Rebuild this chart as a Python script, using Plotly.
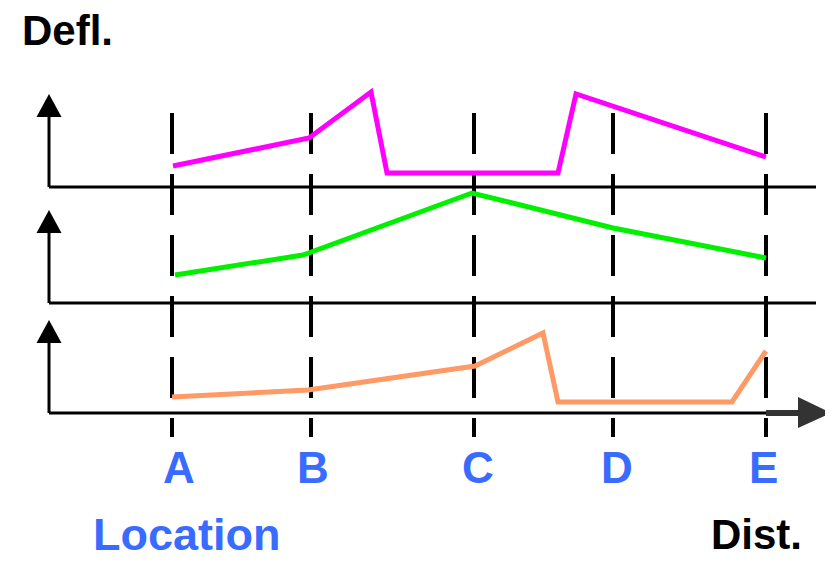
import plotly.graph_objects as go

# locations along the beam (distance, px-scaled) and their labels
loc_names = ["A", "B", "C", "D", "E"]
loc_x = [172, 311, 474, 613, 766]
label_x = [179, 313, 478, 617, 763]

# baseline level of each of the three deflection panels
panel_base = [187, 303, 413]

# deflection shapes (distance, deflection above the baseline)
magenta_x = [173, 309, 371, 387, 558, 576, 766]
magenta_defl = [21, 49, 95, 14, 14, 93, 30]

green_x = [175, 303, 472, 613, 766]
green_defl = [28, 48, 110, 75, 45]

orange_x = [172, 308, 475, 543, 558, 732, 766]
orange_defl = [16, 23, 47, 80, 11, 11, 62]

series = [
    (magenta_x, magenta_defl, "#ff00ff", 0),
    (green_x, green_defl, "#00f000", 1),
    (orange_x, orange_defl, "#ff9966", 2),
]

W, H = 833, 563
PAD = 8  # page body margin
axis_x = 49
axis_len = 93
blue = "#3a6bff"

fig = go.Figure()
shapes = []

# dashed location lines
for x in loc_x:
    shapes.append(dict(type="line", xref="x", yref="y", x0=x, x1=x, y0=113, y1=437,
                       line=dict(color="black", width=4, dash="41px,20px"), layer="below"))

# panel axes: baselines, vertical arrows
for i, b in enumerate(panel_base):
    x_end = 816 if i < 2 else 770
    shapes.append(dict(type="line", xref="x", yref="y", x0=axis_x, x1=x_end, y0=b, y1=b,
                       line=dict(color="black", width=3), layer="below"))
    tip = b - axis_len
    shapes.append(dict(type="line", xref="x", yref="y", x0=axis_x, x1=axis_x, y0=b, y1=tip + 20,
                       line=dict(color="black", width=3), layer="below"))
    shapes.append(dict(type="path", xref="x", yref="y",
                       path=f"M {axis_x-12.5},{tip+23} L {axis_x+12.5},{tip+23} L {axis_x},{tip} Z",
                       fillcolor="black", line=dict(width=0), layer="below"))

# distance arrow at the bottom
b = panel_base[-1]
shapes.append(dict(type="line", xref="x", yref="y", x0=766, x1=800, y0=b, y1=b,
                   line=dict(color="#333333", width=6)))
shapes.append(dict(type="path", xref="x", yref="y",
                   path=f"M 798,{b-16} L 798,{b+15} L 831,{b} Z",
                   fillcolor="#333333", line=dict(width=0)))

for xs, defl, col, p in series:
    fig.add_trace(go.Scatter(x=xs, y=[panel_base[p] - d for d in defl], mode="lines",
                             line=dict(color=col, width=5), hoverinfo="skip", showlegend=False))

font_family = "Liberation Sans, Arial, sans-serif"
annotations = [
    dict(text="Defl.", x=20, y=30, xanchor="left", yanchor="middle",
         font=dict(size=42, color="black", family=font_family, weight="bold")),
    dict(text="Location", x=91, y=534, xanchor="left", yanchor="middle",
         font=dict(size=45, color=blue, family=font_family, weight="bold")),
    dict(text="Dist.", x=709, y=534, xanchor="left", yanchor="middle",
         font=dict(size=42, color="black", family=font_family, weight="bold")),
]
for name, x in zip(loc_names, label_x):
    annotations.append(dict(text=name, x=x, y=467, xanchor="center", yanchor="middle",
                            font=dict(size=44, color=blue, family=font_family, weight="bold")))
for a in annotations:
    a.update(xref="x", yref="y", showarrow=False)

fig.update_layout(
    width=W, height=H,
    margin=dict(l=0, r=0, t=0, b=0),
    plot_bgcolor="white", paper_bgcolor="white",
    shapes=shapes, annotations=annotations,
    xaxis=dict(range=[PAD, W + PAD], visible=False, fixedrange=True),
    yaxis=dict(range=[H + PAD, PAD], visible=False, fixedrange=True),
)

fig.write_html("out.html", config=dict(displayModeBar=False))
